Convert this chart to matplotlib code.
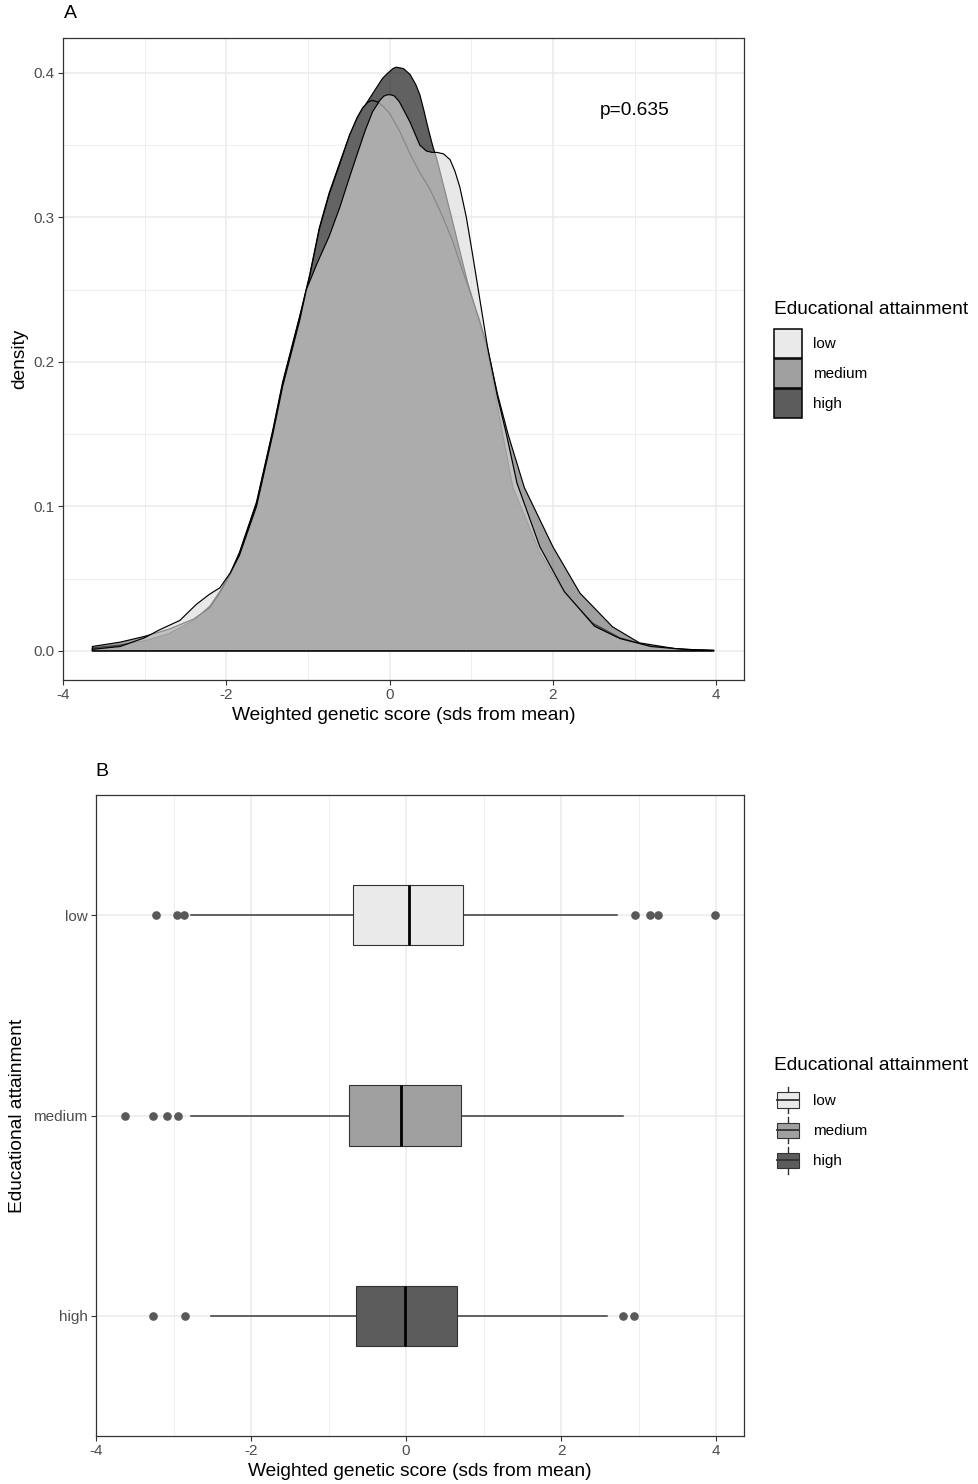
import matplotlib
matplotlib.use("Agg")
import matplotlib.pyplot as plt
from matplotlib.patches import Patch, Rectangle
from matplotlib.lines import Line2D
from matplotlib.legend_handler import HandlerBase
import numpy as np

plt.rcParams['font.family'] = ['Liberation Sans', 'DejaVu Sans']
plt.rcParams['axes.unicode_minus'] = False

# ---------------- data ----------------
groups = ['low', 'medium', 'high']
legend_title = 'Educational attainment'
x_title = 'Weighted genetic score (sds from mean)'
p_text = 'p=0.635'

# density curves
high_x = [-3.64, -3.3, -3.0, -2.7, -2.4, -2.2, -2.08, -1.95, -1.84, -1.63, -1.43, -1.31, -1.10, -0.98, -0.86,
          -0.74, -0.61, -0.49, -0.40, -0.33, -0.25, -0.17, -0.09, -0.04, 0.0, 0.04, 0.08, 0.13, 0.17, 0.21, 0.25,
          0.29, 0.32, 0.37, 0.42, 0.47, 0.53, 0.58, 0.75, 0.95, 1.19, 1.35, 1.51, 1.84, 2.14, 2.49, 2.82, 3.2,
          3.6, 3.97]
high_y = [0.002, 0.004, 0.007, 0.012, 0.021, 0.031, 0.041, 0.054, 0.068, 0.103, 0.153, 0.186, 0.232, 0.260, 0.293,
          0.317, 0.338, 0.357, 0.368, 0.375, 0.382, 0.389, 0.396, 0.399, 0.401, 0.403, 0.404, 0.4035, 0.403, 0.401,
          0.399, 0.395, 0.392, 0.385, 0.374, 0.362, 0.349, 0.340, 0.302, 0.256, 0.210, 0.160, 0.113, 0.068, 0.040,
          0.019, 0.009, 0.003, 0.001, 0.000]

medium_x = [-3.64, -3.3, -3.0, -2.7, -2.4, -2.2, -2.08, -1.95, -1.84, -1.63, -1.43, -1.31, -1.10, -0.98, -0.86,
            -0.74, -0.61, -0.49, -0.40, -0.33, -0.27, -0.24, -0.21, -0.18, -0.15, -0.08, 0.0, 0.12, 0.25, 0.37,
            0.49, 0.63, 0.77, 0.90, 1.0, 1.10, 1.19, 1.32, 1.45, 1.65, 2.0, 2.33, 2.73, 3.06, 3.5, 3.97]
medium_y = [0.003, 0.006, 0.010, 0.015, 0.022, 0.030, 0.040, 0.053, 0.067, 0.102, 0.152, 0.185, 0.231, 0.259, 0.292,
            0.316, 0.337, 0.357, 0.369, 0.376, 0.3795, 0.3805, 0.381, 0.3805, 0.380, 0.377, 0.372, 0.360, 0.344,
            0.331, 0.320, 0.303, 0.284, 0.262, 0.246, 0.229, 0.212, 0.178, 0.150, 0.113, 0.072, 0.040, 0.0166,
            0.0055, 0.0015, 0.0]

low_x = [-3.64, -3.3, -3.0, -2.82, -2.57, -2.37, -2.21, -2.08, -1.95, -1.84, -1.63, -1.43, -1.31, -1.10, -1.02,
         -0.89, -0.74, -0.61, -0.49, -0.39, -0.30, -0.21, -0.12, -0.07, -0.02, 0.02, 0.06, 0.12, 0.25, 0.37, 0.45,
         0.52, 0.58, 0.66, 0.74, 0.80, 0.86, 0.94, 1.02, 1.10, 1.20, 1.32, 1.43, 1.56, 1.84, 2.14, 2.51, 2.82, 3.2,
         3.6, 3.97]
low_y = [0.001, 0.003, 0.009, 0.0145, 0.021, 0.032, 0.039, 0.0436, 0.054, 0.066, 0.100, 0.150, 0.183, 0.229, 0.250,
         0.268, 0.287, 0.307, 0.328, 0.345, 0.360, 0.373, 0.381, 0.384, 0.385, 0.3848, 0.384, 0.380, 0.366, 0.350,
         0.346, 0.345, 0.345, 0.344, 0.340, 0.332, 0.321, 0.300, 0.273, 0.245, 0.210, 0.176, 0.150, 0.116, 0.072,
         0.041, 0.017, 0.0085, 0.003, 0.001, 0.0005]

# boxplot summaries (low, medium, high)
box_q1 = [-0.68, -0.74, -0.65]
box_med = [0.04, -0.06, -0.01]
box_q3 = [0.74, 0.71, 0.66]
box_whislo = [-2.77, -2.77, -2.52]
box_whishi = [2.72, 2.80, 2.59]
outliers_low = [-3.23, -2.95, -2.87, 2.96, 3.15, 3.25, 3.99]
outliers_medium = [-3.63, -3.26, -3.09, -2.94]
outliers_high = [-3.26, -2.85, 2.80, 2.94]

# ---------------- style ----------------
fill_base = {'low': '#DADADA', 'medium': '#666666', 'high': '#000000'}
key_color = {'low': '#EAEAEA', 'medium': '#A0A0A0', 'high': '#5C5C5C'}
alpha = 0.62
grid_c = '#EBEBEB'
dark = '#333333'

W, H = 979, 1484
fig = plt.figure(figsize=(W / 100, H / 100), dpi=100)


def style_axes(ax):
    for s in ax.spines.values():
        s.set_color(dark)
        s.set_linewidth(0.9)
    ax.tick_params(which='major', length=3.5, width=0.8, color=dark, labelcolor='#4D4D4D',
                   labelsize=11, pad=2.5)
    ax.tick_params(which='minor', length=0)
    ax.grid(which='major', color=grid_c, lw=1.1)
    ax.grid(which='minor', color=grid_c, lw=0.55)
    ax.set_axisbelow(True)


# legend geometry: 28x29 px keys, 30 px apart
fs_leg = 11.0
hl = 20.2 / fs_leg
hh = (20.9 / fs_leg - 0.245) / 0.65
lsp = 0.75 / fs_leg

# ---------------- panel A ----------------
axA = fig.add_axes([63 / W, 1 - 680 / H, (744 - 63) / W, (680 - 38) / H])
style_axes(axA)
curves = {'high': (high_x, high_y), 'medium': (medium_x, medium_y), 'low': (low_x, low_y)}
for z, g in enumerate(['high', 'medium', 'low']):
    xs, ys = np.array(curves[g][0]), np.array(curves[g][1])
    px = np.r_[xs, xs[-1], xs[0]]
    py = np.r_[ys, 0, 0]
    fc = matplotlib.colors.to_rgba(fill_base[g], alpha)
    axA.fill(px, py, facecolor=fc, edgecolor='black', lw=0.85, zorder=2 + z, joinstyle='round')
axA.set_xlim(-4.0, 4.34)
axA.set_ylim(-0.0202, 0.4242)
axA.set_xticks([-4, -2, 0, 2, 4])
axA.set_xticks([-3, -1, 1, 3], minor=True)
axA.set_yticks([0.0, 0.1, 0.2, 0.3, 0.4])
axA.set_yticks([0.05, 0.15, 0.25, 0.35], minor=True)
axA.set_yticklabels(['0.0', '0.1', '0.2', '0.3', '0.4'])
axA.set_xlabel(x_title, fontsize=13.8, color='black')
axA.xaxis.set_label_coords(0.5, -36 / 642)
axA.xaxis.label.set_va('center')
axA.set_ylabel('density', fontsize=13.8, color='black')
axA.yaxis.set_label_coords(-43 / 681, 0.5)
axA.yaxis.label.set_va('center')
axA.text(3.0, 0.374, p_text, fontsize=13.8, ha='center', va='center', zorder=10)
fig.text(64 / W, 1 - 14 / H, 'A', fontsize=14, ha='left', va='center')

fig.text(774 / W, 1 - 310 / H, legend_title, fontsize=13.8, ha='left', va='center')
legA_handles = [Patch(facecolor=key_color[g], edgecolor='black', lw=1.1) for g in groups]
fig.legend(handles=legA_handles, labels=groups, loc='upper left',
           bbox_to_anchor=(774 / W, 1 - 329 / H), frameon=False, fontsize=fs_leg,
           handlelength=hl, handleheight=hh, labelspacing=lsp, handletextpad=0.72,
           borderpad=0, borderaxespad=0)

# ---------------- panel B ----------------
axB = fig.add_axes([96 / W, 1 - 1436 / H, (744 - 96) / W, (1436 - 795) / H])
style_axes(axB)
positions = [3, 2, 1]
fliers = [outliers_low, outliers_medium, outliers_high]
stats = []
for i, g in enumerate(groups):
    stats.append(dict(med=box_med[i], q1=box_q1[i], q3=box_q3[i], whislo=box_whislo[i],
                      whishi=box_whishi[i], fliers=fliers[i], label=g))
kw = dict(positions=positions, widths=0.3, patch_artist=True, showcaps=False,
          boxprops=dict(edgecolor=dark, lw=0.8),
          whiskerprops=dict(color='#3a3a3a', lw=1.1),
          medianprops=dict(color='black', lw=2.0),
          flierprops=dict(marker='o', markerfacecolor='#595959', markeredgecolor='#595959', markersize=5.2))
try:
    bp = axB.bxp(stats, orientation='horizontal', **kw)
except TypeError:
    bp = axB.bxp(stats, vert=False, **kw)
for patch, g in zip(bp['boxes'], groups):
    patch.set_facecolor(key_color[g])
    patch.set_zorder(3)
for m in bp['medians']:
    m.set_zorder(4)
axB.set_xlim(-4.0, 4.36)
axB.set_ylim(0.4, 3.6)
axB.set_xticks([-4, -2, 0, 2, 4])
axB.set_xticks([-3, -1, 1, 3], minor=True)
axB.set_yticks(positions)
axB.set_yticklabels(groups)
axB.set_xlabel(x_title, fontsize=13.8, color='black')
axB.xaxis.set_label_coords(0.5, -36 / 641)
axB.xaxis.label.set_va('center')
axB.set_ylabel(legend_title, fontsize=13.8, color='black')
axB.yaxis.set_label_coords(-78 / 648, 0.5)
axB.yaxis.label.set_va('center')
fig.text(95 / W, 1 - 772 / H, 'B', fontsize=14, ha='left', va='center')


class BoxHandler(HandlerBase):
    def create_artists(self, legend, orig_handle, xdescent, ydescent, width, height, fontsize, trans):
        fc = orig_handle.get_facecolor()
        cx = -xdescent + width / 2
        cy = -ydescent + height / 2
        bw = width * 0.80
        bh = height * 0.52
        wl = Line2D([cx, cx], [cy - height * 0.46, cy + height * 0.46], color=dark, lw=1.0, transform=trans)
        rect = Rectangle((cx - bw / 2, cy - bh / 2), bw, bh, facecolor=fc, edgecolor=dark, lw=0.8,
                         transform=trans)
        med = Line2D([cx - bw / 2, cx + bw / 2], [cy, cy], color=dark, lw=1.3, transform=trans)
        return [wl, rect, med]


fig.text(774 / W, 1 - 1066 / H, legend_title, fontsize=13.8, ha='left', va='center')
legB_handles = [Patch(facecolor=key_color[g]) for g in groups]
fig.legend(handles=legB_handles, labels=groups, loc='upper left',
           bbox_to_anchor=(774 / W, 1 - 1085.5 / H), frameon=False, fontsize=fs_leg,
           handlelength=hl, handleheight=hh, labelspacing=lsp, handletextpad=0.72,
           borderpad=0, borderaxespad=0, handler_map={Patch: BoxHandler()})

fig.savefig('out.png', dpi=100)
